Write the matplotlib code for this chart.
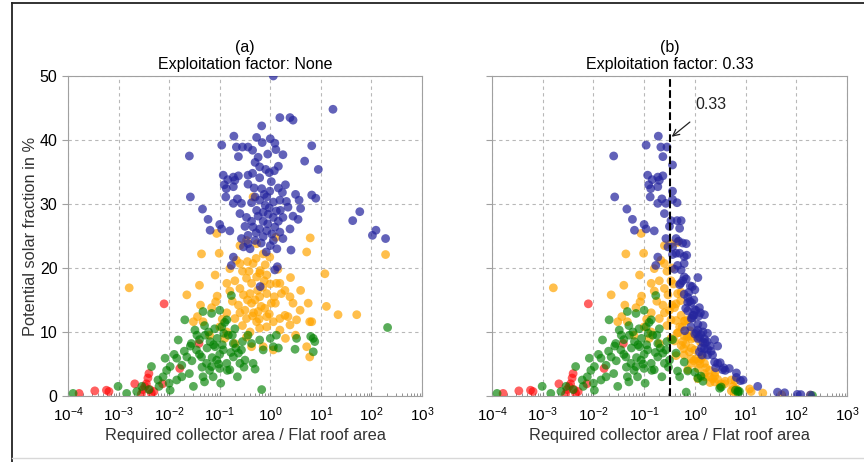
import numpy as np
import matplotlib
matplotlib.use("Agg")
import matplotlib.pyplot as plt
from matplotlib.ticker import LogLocator, NullFormatter, FixedLocator, LogFormatterSciNotation
from matplotlib.lines import Line2D

plt.rcParams['font.family'] = ['Liberation Sans', 'DejaVu Sans']
plt.rcParams['mathtext.fontset'] = 'custom'
plt.rcParams['mathtext.rm'] = 'Liberation Sans'

# ---------------- data (log10 of area ratio, solar fraction in %) ----------------
blue_logx = [0.06, 1.24, 0.19, 0.39, 0.45, -0.17, -0.72, -0.27, 0.00, -0.16,
             0.09, -0.96, -0.67, -0.55, -0.44, -0.35, 0.82, 0.11, -1.60, -0.63,
             -0.05, -0.24, 0.25, 0.68, 0.95, 0.16, -0.21, -0.09, -0.02, -0.93,
             -0.73, -0.63, -0.84, -0.70, -0.44, -0.35, -0.21, 0.08, -0.91, -0.73,
             -0.87, -0.44, -0.32, -0.17, -0.01, 0.16, 0.24, -1.58, 0.82, 0.90,
             -0.88, -0.73, -0.57, -0.37, -0.30, -0.21, -0.07, 0.06, 0.19, 0.32,
             0.57, 0.60, -1.34, -1.23, -1.19, -0.96, -0.80, 1.63, 1.77, -0.47,
             -0.37, -0.24, -0.14, -0.04, 0.06, 0.16, 0.25, -0.27, -0.14, -0.02,
             -0.34, -0.21, -0.07, 0.09, 0.19, 0.39, -0.57, -0.44, -0.30, -0.14,
             0.06, 0.25, 0.45, 0.55, 0.41, -0.53, -0.40, -0.44, -0.73, -0.77,
             0.09, 0.14, -0.20, 2.02, 2.09, 2.28, -0.10, -0.05, 0.03, 0.12,
             -0.18, -0.28, 0.00, 0.20, -0.12, 0.02, -0.30, 0.30, -0.60, -0.50,
             0.35, 0.50, -0.08, 0.13, -1.00, -0.65]
blue_y_a = [50.0, 44.8, 43.5, 43.5, 43.1, 42.2, 40.6, 40.4, 40.2, 39.6,
            39.5, 39.2, 38.9, 38.9, 38.9, 38.4, 39.1, 38.5, 37.5, 37.4,
            37.8, 37.3, 37.7, 36.7, 35.4, 35.9, 35.8, 35.4, 34.9, 34.5,
            34.2, 34.4, 33.8, 33.7, 34.5, 34.8, 34.1, 35.2, 33.0, 32.7,
            32.4, 33.1, 32.5, 32.4, 32.0, 32.5, 31.8, 31.1, 31.4, 30.9,
            31.1, 30.1, 30.1, 30.2, 31.1, 30.6, 31.1, 30.3, 30.6, 30.4,
            30.6, 29.3, 29.2, 27.6, 25.9, 26.1, 25.8, 27.4, 28.8, 27.9,
            27.3, 28.1, 27.3, 28.4, 27.9, 27.3, 27.9, 29.0, 28.7, 29.4,
            26.4, 26.1, 25.8, 26.4, 25.6, 26.1, 24.6, 25.1, 24.3, 24.9,
            24.3, 24.6, 28.1, 27.6, 22.8, 23.3, 23.0, 23.8, 21.7, 20.4,
            19.7, 20.2, 17.1, 25.1, 25.9, 24.6, 29.8, 26.9, 25.3, 28.9,
            23.9, 25.5, 23.5, 29.0, 31.5, 33.5, 36.5, 33.0, 28.5, 26.5,
            29.5, 31.5, 22.5, 23.0, 26.8, 30.8]
blue_y_b = [18.5, 1.5, 12.7, 8.8, 7.8, 23.8, 40.6, 27.4, 16.6, 22.0,
            13.8, 39.2, 38.9, 38.9, 36.1, 30.2, 3.6, 13.0, 37.5, 37.4,
            17.1, 23.9, 9.8, 4.3, 2.5, 11.0, 21.8, 17.2, 15.0, 34.5,
            34.2, 34.4, 33.8, 33.7, 32.0, 27.4, 20.7, 12.5, 33.0, 32.7,
            32.4, 30.7, 24.2, 18.3, 13.5, 10.0, 8.5, 31.1, 2.9, 2.4,
            31.1, 30.1, 30.1, 24.6, 22.3, 18.6, 14.6, 11.2, 8.9, 7.0,
            4.4, 4.0, 29.2, 27.6, 25.9, 26.1, 25.8, 0.6, 0.5, 27.4,
            22.3, 18.0, 14.6, 12.6, 10.3, 8.4, 7.3, 19.7, 15.4, 12.6,
            20.4, 15.9, 12.1, 9.2, 7.4, 5.3, 24.6, 23.3, 17.4, 13.3,
            9.0, 6.4, 5.1, 4.1, 4.4, 23.3, 19.8, 22.1, 21.7, 20.4,
            6.9, 6.4, 10.2, 0.25, 0.22, 0.15, 14.8, 12.2, 9.9, 9.6,
            13.7, 17.6, 9.7, 8.3, 16.2, 13.4, 26.2, 7.8, 28.5, 26.5,
            6.4, 5.2, 10.8, 7.5, 26.8, 30.8]

orange_logx = [-2.79, -1.36, -1.01, -1.09, -1.40, -1.65, -1.38, -1.44, -1.05, -1.08,
               -0.86, -0.80, -0.70, -0.60, -0.47, -0.37, -0.27, -0.21, -0.53, -0.40,
               -0.30, -0.21, -0.07, -0.63, -0.50, -0.37, -0.24, -0.11, 0.02, -0.47,
               -0.27, -0.07, 0.06, 0.19, 0.12, 0.22, 0.39, 0.45, 0.59, 0.75,
               0.35, 0.52, 0.78, 1.11, 1.34, 1.71, 1.08, 0.72, 0.78, -0.07,
               -0.21, -0.70, -0.86, -1.16, -1.33, -1.00, -0.86, -1.52, 0.19, 0.39,
               0.72, 0.06, -0.14, -0.37, -0.34, -1.06, 0.11, 0.79, 2.28, -0.60,
               -0.47, -0.27, -0.14, -0.01, -0.80, -0.60, -0.67, -0.34, -0.20, -0.07,
               0.19, 0.29, 0.82, 0.29, -0.70, -0.47, -0.55, -0.45, -0.35, -0.15,
               -0.60, -0.10, 0.00, -0.25, -0.40, -0.90, -1.20, 0.10, 0.30, 0.50,
               -0.45, -0.33, -0.18, -0.02, 0.08, -0.55, -0.42, -0.28, -0.12, 0.15,
               -0.75, -0.95, 0.40, 0.60, -0.22]
orange_y_a = [16.9, 22.2, 22.3, 18.9, 17.3, 15.8, 14.2, 12.4, 15.6, 14.7,
              17.6, 16.4, 18.0, 16.8, 18.4, 17.6, 18.6, 19.2, 15.8, 16.0,
              15.0, 15.5, 16.0, 14.2, 13.4, 14.5, 13.2, 13.7, 14.5, 12.1,
              11.6, 12.4, 11.6, 12.1, 17.6, 16.0, 15.5, 14.5, 13.4, 14.5,
              12.4, 11.9, 11.6, 14.0, 12.7, 12.7, 19.1, 22.5, 6.1, 10.8,
              10.6, 12.1, 13.0, 13.8, 11.6, 10.8, 10.0, 11.6, 10.3, 11.1,
              7.7, 7.2, 7.7, 7.7, 31.1, 25.4, 24.8, 24.7, 22.1, 23.5,
              24.3, 23.8, 22.2, 21.7, 19.9, 20.7, 21.2, 20.7, 19.6, 18.9,
              17.6, 16.5, 11.6, 12.6, 8.2, 9.2, 19.5, 21.0, 12.5, 17.0,
              13.0, 20.5, 17.5, 16.5, 10.0, 9.0, 9.5, 14.5, 9.0, 9.5,
              15.0, 13.0, 14.0, 12.8, 15.5, 11.0, 19.5, 21.5, 18.0, 19.8,
              14.8, 12.0, 18.5, 16.5, 12.0]
orange_y_b = [16.9, 22.2, 22.3, 18.9, 17.3, 15.8, 14.2, 12.4, 15.6, 14.7,
              17.6, 16.4, 18.0, 16.8, 18.0, 14.4, 12.6, 11.7, 15.8, 13.8,
              10.8, 9.4, 7.5, 14.2, 13.4, 11.8, 8.5, 6.9, 5.8, 11.9,
              7.9, 5.8, 4.3, 3.5, 5.8, 4.4, 3.1, 2.6, 1.9, 1.5,
              2.7, 1.9, 1.1, 0.7, 0.45, 0.2, 1.1, 2.5, 0.6, 5.1,
              6.4, 12.1, 13.0, 13.8, 11.6, 10.8, 10.0, 11.6, 3.0, 2.2,
              0.8, 2.7, 4.1, 6.3, 24.0, 25.4, 8.4, 2.4, 0.13, 23.5,
              23.8, 16.2, 11.9, 9.1, 19.9, 20.7, 21.2, 16.0, 11.7, 8.9,
              5.1, 4.0, 1.1, 3.0, 8.2, 9.0, 19.5, 20.0, 9.8, 9.3,
              13.0, 10.2, 7.2, 10.8, 8.6, 9.0, 9.5, 5.0, 2.1, 1.6,
              14.2, 9.9, 8.1, 5.5, 5.5, 11.0, 17.5, 14.9, 9.3, 6.2,
              14.8, 12.0, 3.7, 2.3, 7.4]

green_logx = [-3.90, -3.01, -2.84, -2.64, -2.54, -2.35, -2.22, -2.12, -1.98, -2.08,
              -1.98, -1.85, -1.75, -1.65, -1.82, -1.69, -1.56, -1.46, -1.36, -1.26,
              -1.49, -1.29, -1.19, -1.09, -1.33, -1.16, -1.00, -0.86, -0.96, -0.83,
              -0.73, -0.93, -1.06, -1.16, -1.33, -1.52, -1.13, -0.86, -0.63, -0.60,
              -0.80, -1.00, -0.44, -0.37, -0.21, -0.14, 0.00, 0.12, 0.16, 0.06,
              -0.17, 0.52, 0.85, 0.88, 0.85, 0.49, -0.50, -0.34, -0.73, -0.57,
              2.32, -0.77, -1.40, -1.25, -1.15, -1.05, -0.95, -1.20, -1.35, -1.55,
              -1.70, -1.90, -2.05, -1.10, -0.90, -0.75, -0.70, -1.30, -0.65, -0.55,
              -1.60, -1.85, -2.40, -2.20, -1.45, -1.00, -0.85, -1.12, -1.02, -0.92,
              -0.78, -1.22, -1.40, -1.58, -1.75, -2.00, -0.98, -0.68, -0.52, -1.30,
              -0.30, 0.80]
green_y_a = [0.4, 1.5, 0.4, 0.7, 1.5, 4.6, 2.5, 3.0, 0.9, 5.9,
             4.6, 5.9, 4.8, 6.1, 8.75, 11.9, 8.2, 7.2, 6.1, 5.1,
             10.3, 9.5, 8.5, 7.7, 13.2, 12.9, 13.4, 11.9, 10.8, 9.5,
             8.2, 7.2, 5.6, 4.6, 3.0, 1.5, 3.0, 5.1, 6.7, 5.1,
             4.1, 4.3, 9.5, 8.2, 8.75, 7.2, 9.0, 9.5, 7.5, 7.7,
             1.0, 9.0, 9.0, 8.5, 6.9, 7.3, 5.6, 5.1, 6.1, 7.2,
             10.7, 15.7, 6.5, 7.5, 6.0, 9.0, 8.0, 4.0, 4.5, 5.5,
             7.0, 6.5, 4.0, 10.5, 11.5, 9.5, 10.5, 11.0, 3.0, 8.5,
             3.5, 2.5, 1.0, 1.5, 9.5, 6.5, 4.0, 8.0, 5.0, 9.8,
             6.8, 10.0, 8.8, 7.8, 3.0, 2.0, 2.0, 7.5, 4.5, 2.2,
             4.2, 9.3]
green_y_b = [0.4, 1.5, 0.4, 0.7, 1.5, 4.6, 2.5, 3.0, 0.9, 5.9,
             4.6, 5.9, 4.8, 6.1, 8.75, 11.9, 8.2, 7.2, 6.1, 5.1,
             10.3, 9.5, 8.5, 7.7, 13.2, 12.9, 13.4, 11.9, 10.8, 9.5,
             8.2, 7.2, 5.6, 4.6, 3.0, 1.5, 3.0, 5.1, 6.7, 5.1,
             4.1, 4.3, 8.8, 6.7, 5.3, 3.9, 3.7, 3.1, 2.3, 2.8,
             0.6, 1.4, 0.8, 0.7, 0.6, 1.2, 5.6, 3.9, 6.1, 7.2,
             0.07, 15.7, 6.5, 7.5, 6.0, 9.0, 8.0, 4.0, 4.5, 5.5,
             7.0, 6.5, 4.0, 10.5, 11.5, 9.5, 10.5, 11.0, 3.0, 8.5,
             3.5, 2.5, 1.0, 1.5, 9.5, 6.5, 4.0, 8.0, 5.0, 9.8,
             6.8, 10.0, 8.8, 7.8, 3.0, 2.0, 2.0, 7.5, 4.5, 2.2,
             3.0, 0.9]

red_logx = [-3.78, -3.47, -3.24, -3.19, -2.68, -2.52, -2.40, -2.42, -2.45, -2.48,
            -2.38, -2.35, -2.30, -2.10, -2.13, -1.79, -1.41, -2.55]
red_y_a = [0.4, 0.8, 0.9, 0.7, 1.9, 1.0, 3.5, 2.8, 1.9, 1.5,
           1.0, 0.4, 0.7, 14.4, 1.9, 4.3, 8.2, 0.3]
red_y_b = [0.4, 0.8, 0.9, 0.7, 1.9, 1.0, 3.5, 2.8, 1.9, 1.5,
           1.0, 0.4, 0.7, 14.4, 1.9, 4.3, 8.2, 0.3]

x_major_ticks = [1e-4, 1e-3, 1e-2, 1e-1, 1e0, 1e1, 1e2, 1e3]
y_ticks = [0, 10, 20, 30, 40, 50]
panel_titles = ["(a)\nExploitation factor: None", "(b)\nExploitation factor: 0.33"]
exploitation_factor = 0.33
xlabel = "Required collector area / Flat roof area"
ylabel = "Potential solar fraction in %"

# ---------------- figure ----------------
fig = plt.figure(figsize=(8.64, 4.62), dpi=100)
ax1 = fig.add_axes([0.0787, 0.1429, 0.4097, 0.6926])
ax2 = fig.add_axes([0.5694, 0.1429, 0.4109, 0.6926])

cols = {'blue': (0.15, 0.15, 0.62), 'orange': 'orange', 'green': 'green', 'red': 'red'}
alph = {'blue': 0.72, 'orange': 0.7, 'green': 0.65, 'red': 0.62}
S = 40

series_a = [('red', red_logx, red_y_a), ('orange', orange_logx, orange_y_a),
            ('green', green_logx, green_y_a), ('blue', blue_logx, blue_y_a)]
series_b = [('red', red_logx, red_y_b), ('orange', orange_logx, orange_y_b),
            ('green', green_logx, green_y_b), ('blue', blue_logx, blue_y_b)]

minor_ticks = [m * 10.0 ** e for e in range(-4, 3) for m in range(2, 10)]

for ax, series, title in [(ax1, series_a, panel_titles[0]), (ax2, series_b, panel_titles[1])]:
    for name, lx, yy in series:
        ax.scatter(10 ** np.asarray(lx), yy, s=S, color=cols[name], alpha=alph[name],
                   edgecolors='none', zorder=3)
    ax.set_xscale('log')
    ax.set_xlim(1e-4, 1e3)
    ax.set_ylim(0, 50)
    ax.xaxis.set_major_locator(FixedLocator(x_major_ticks))
    ax.xaxis.set_major_formatter(LogFormatterSciNotation())
    ax.xaxis.set_minor_locator(FixedLocator(minor_ticks))
    ax.xaxis.set_minor_formatter(NullFormatter())
    ax.yaxis.set_major_locator(FixedLocator(y_ticks))
    ax.grid(True, which='major', linestyle=(0, (3, 3)), color='#b8b8b8', linewidth=0.8, zorder=0)
    for sp in ax.spines.values():
        sp.set_color('#a0a0a0')
    ax.tick_params(axis='x', which='major', direction='in', length=3, color='#808080',
                   labelsize=11, pad=7)
    ax.tick_params(axis='x', which='minor', direction='in', length=2, color='#808080')
    ax.tick_params(axis='y', direction='out', length=4, color='#a0a0a0', labelsize=11.5)
    ax.set_xlabel(xlabel, fontsize=11.8, labelpad=3, color='#333333')
    ax.set_title(title, fontsize=11.5, pad=5, linespacing=1.15)

ax1.set_ylabel(ylabel, fontsize=11.8, labelpad=1, color='#333333')
ax2.set_yticklabels([])
ax2.tick_params(axis='y', labelleft=False)

ax2.axvline(exploitation_factor, color='black', linestyle='--', linewidth=1.5, zorder=4)
ax2.annotate("0.33", xy=(0.35, 40.5), xytext=(2.1, 45.5), fontsize=11.5,
             ha='center', va='center', color='#222222',
             arrowprops=dict(arrowstyle='->', color='#222222', lw=0.9,
                             shrinkA=8, shrinkB=0), zorder=5)

# outer frame lines
fig.add_artist(Line2D([12 / 864, 1.0], [1 - 3 / 462, 1 - 3 / 462], transform=fig.transFigure,
                      color='#222222', linewidth=1.3))
fig.add_artist(Line2D([12 / 864, 12 / 864], [0.0, 1 - 3 / 462], transform=fig.transFigure,
                      color='#222222', linewidth=1.3))
fig.add_artist(Line2D([12 / 864, 1.0], [4 / 462, 4 / 462], transform=fig.transFigure,
                      color='#d8d8d8', linewidth=1.0))

fig.savefig("out.png", dpi=100)
